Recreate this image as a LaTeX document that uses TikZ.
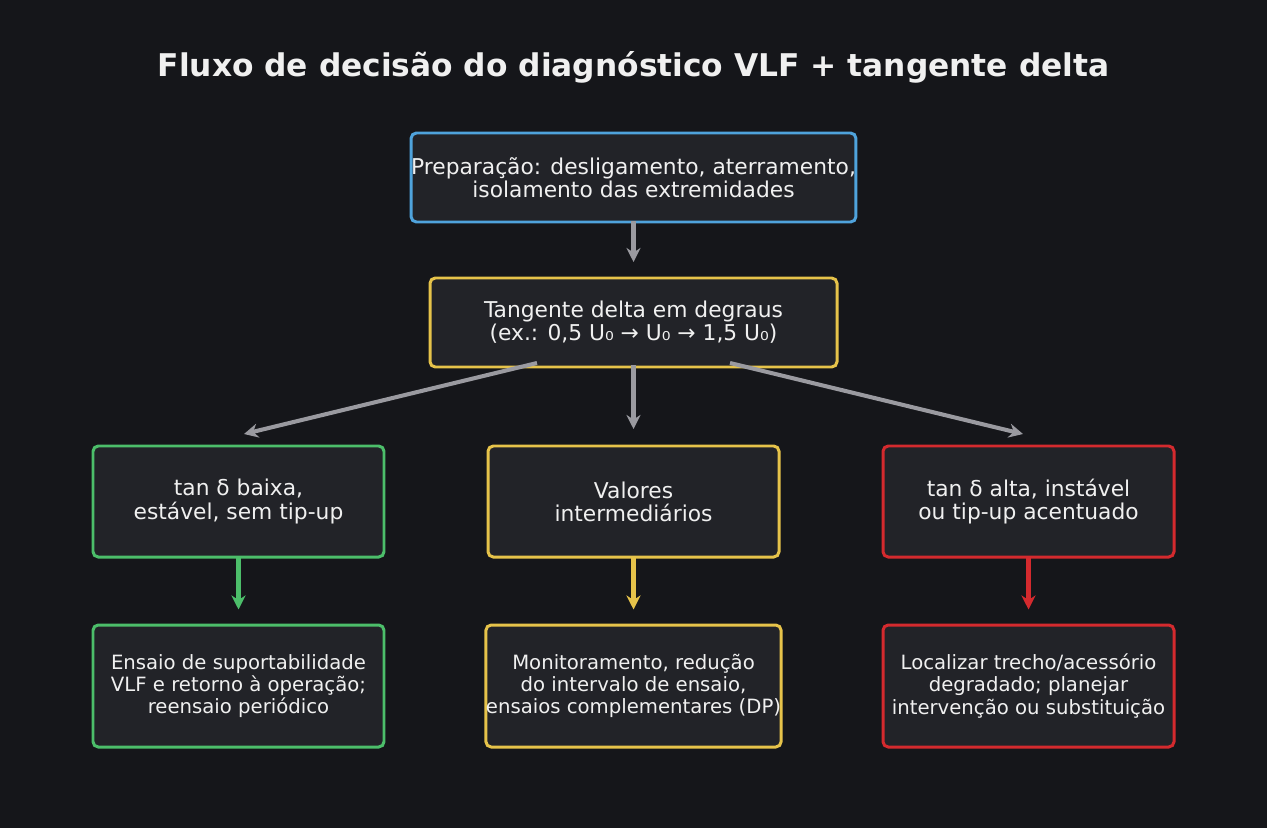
\documentclass[tikz,border=0pt]{standalone}
\usepackage{fontspec}
\setmainfont{DejaVu Sans}
\usetikzlibrary{arrows.meta}
\definecolor{bg}{HTML}{15161A}
\definecolor{boxf}{HTML}{222328}
\definecolor{cblue}{HTML}{4FA3DC}
\definecolor{cyel}{HTML}{E6C34A}
\definecolor{cgreen}{HTML}{4CBE6A}
\definecolor{cred}{HTML}{D42A2E}
\definecolor{cgray}{HTML}{9A9AA0}
\definecolor{txt}{HTML}{F0F0F0}
\begin{document}
\begin{tikzpicture}[x=0.02cm,y=-0.02cm,
 box/.style={draw=#1,fill=boxf,line width=1.7pt,rounded corners=3pt,text=txt,align=center,font=\fontsize{12.4}{13.2}\selectfont,inner sep=0pt},
 arr/.style={draw=#1,line width=2.3pt,-{Stealth[length=8pt,width=8pt]}}]
\fill[bg] (0,0) rectangle (1267,828);
\node[text=txt,font=\bfseries\fontsize{17.8}{20}\selectfont] (title) at (633.5,67) {Fluxo de decisão do diagnóstico VLF + tangente delta};
\node[box=cblue,minimum width=407*0.02cm,minimum height=89*0.02cm] (a) at (633.5,177.5) {Preparação: desligamento, aterramento,\\isolamento das extremidades};
\node[box=cyel,minimum width=407*0.02cm,minimum height=89*0.02cm] (b) at (633.5,322.5) {Tangente delta em degraus\\(ex.: 0,5 U₀ → U₀ → 1,5 U₀)};
\node[box=cgreen,minimum width=291*0.02cm,minimum height=111*0.02cm] (c1) at (238.5,501.5) {tan δ baixa,\\estável, sem tip-up};
\node[box=cyel,minimum width=291*0.02cm,minimum height=111*0.02cm] (c2) at (633.5,501.5) {Valores\\intermediários};
\node[box=cred,minimum width=291*0.02cm,minimum height=111*0.02cm] (c3) at (1028.5,501.5) {tan δ alta, instável\\ou tip-up acentuado};
\tikzset{small/.style={font=\fontsize{11.2}{12.6}\selectfont}}
\node[box=cgreen,small,minimum width=291*0.02cm,minimum height=122*0.02cm] (d1) at (238.5,686) {Ensaio de suportabilidade\\VLF e retorno à operação;\\reensaio periódico};
\node[box=cyel,small,minimum width=291*0.02cm,minimum height=122*0.02cm] (d2) at (633.5,686) {Monitoramento, redução\\do intervalo de ensaio,\\ensaios complementares (DP)};
\node[box=cred,small,minimum width=291*0.02cm,minimum height=122*0.02cm] (d3) at (1028.5,686) {Localizar trecho/acessório\\degradado; planejar\\intervenção ou substituição};
\coordinate (bl) at (537,363); \coordinate (br) at (730,363); \coordinate (bm) at (633.5,365);
\coordinate (t1) at (244,434); \coordinate (t2) at (633.5,429); \coordinate (t3) at (1023,434);
\draw[arr=cgray] (a.south) ++(0,-2) -- (633.5,262);
\draw[arr=cgray] (bl) -- (t1);
\draw[arr=cgray] (bm) -- (t2);
\draw[arr=cgray] (br) -- (t3);
\draw[arr=cgreen] (c1.south) ++(0,-2) -- ++(0,53);
\draw[arr=cyel] (c2.south) ++(0,-2) -- ++(0,53);
\draw[arr=cred] (c3.south) ++(0,-2) -- ++(0,53);
\end{tikzpicture}
\end{document}
